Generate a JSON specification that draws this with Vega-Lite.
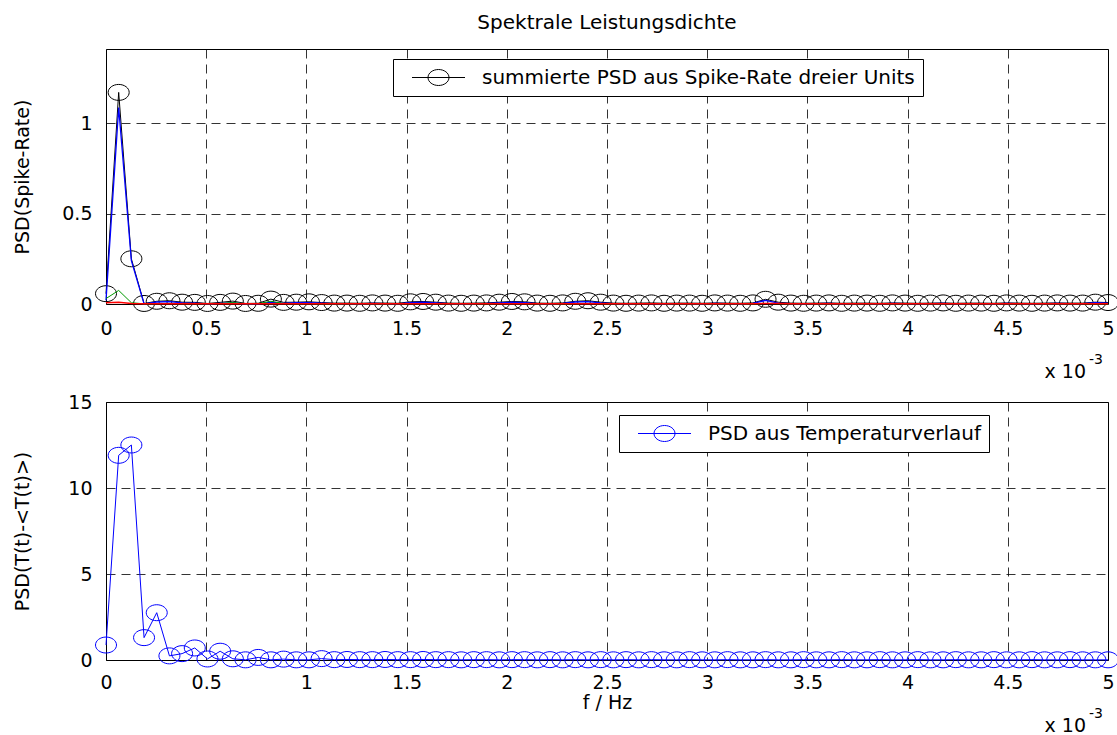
{
  "$schema": "https://vega.github.io/schema/vega-lite/v6.json",
  "padding": {"left": 12, "top": 12, "right": 4, "bottom": 2},
  "bounds": "flush",
  "spacing": 98,
  "config": {
    "font": "DejaVu Sans",
    "view": {"stroke": "black", "strokeWidth": 1},
    "axis": {"labelFont": "DejaVu Sans", "labelFontSize": 19, "labelColor": "black", "labelFlush": false, "titleFont": "DejaVu Sans", "titleFontSize": 19, "titleFontWeight": "normal", "titleColor": "black", "domain": false, "ticks": false, "grid": true, "gridColor": "black", "gridOpacity": 0.8, "gridDash": [9, 6], "gridWidth": 1},
    "legend": {"labelFont": "DejaVu Sans", "labelFontSize": 20, "labelColor": "black", "labelLimit": 1000, "padding": 8, "strokeColor": "black", "fillColor": "white", "cornerRadius": 0},
    "title": {"font": "DejaVu Sans", "fontSize": 20, "fontWeight": "normal", "color": "black"}
  },
  "datasets": {
    "psd": [
      {"f": 0, "s": 0.057, "b": 0.020, "g": 0.030, "r": 0.007, "t": 0.87},
      {"f": 0.0633, "s": 1.170, "b": 1.086, "g": 0.075, "r": 0.009, "t": 11.9},
      {"f": 0.1266, "s": 0.250, "b": 0.240, "g": 0.007, "r": 0.003, "t": 12.5},
      {"f": 0.1899, "s": 0.003, "b": 0.001, "g": 0.001, "r": 0.001, "t": 1.3},
      {"f": 0.2532, "s": 0.015, "b": 0.011, "g": 0.002, "r": 0.002, "t": 2.75},
      {"f": 0.3165, "s": 0.018, "b": 0.013, "g": 0.003, "r": 0.002, "t": 0.24},
      {"f": 0.3797, "s": 0.010, "b": 0.006, "g": 0.002, "r": 0.002, "t": 0.37},
      {"f": 0.4430, "s": 0.009, "b": 0.005, "g": 0.002, "r": 0.002, "t": 0.70},
      {"f": 0.5063, "s": 0.003, "b": 0.001, "g": 0.001, "r": 0.001, "t": 0.06},
      {"f": 0.5696, "s": 0.009, "b": 0.004, "g": 0.003, "r": 0.002, "t": 0.51},
      {"f": 0.6329, "s": 0.016, "b": 0.006, "g": 0.008, "r": 0.002, "t": 0.07},
      {"f": 0.6962, "s": 0.003, "b": 0.001, "g": 0.001, "r": 0.001, "t": 0.01},
      {"f": 0.7595, "s": 0.004, "b": 0.001, "g": 0.002, "r": 0.001, "t": 0.15},
      {"f": 0.8228, "s": 0.027, "b": 0.010, "g": 0.015, "r": 0.002, "t": 0.01},
      {"f": 0.8861, "s": 0.009, "b": 0.004, "g": 0.003, "r": 0.002, "t": 0.05},
      {"f": 0.9494, "s": 0.010, "b": 0.007, "g": 0.001, "r": 0.002, "t": 0.01},
      {"f": 1.0127, "s": 0.012, "b": 0.008, "g": 0.002, "r": 0.002, "t": 0.01},
      {"f": 1.0759, "s": 0.008, "b": 0.005, "g": 0.001, "r": 0.002, "t": 0.08},
      {"f": 1.1392, "s": 0.005, "b": 0.002, "g": 0.001, "r": 0.002, "t": 0.02},
      {"f": 1.2025, "s": 0.005, "b": 0.002, "g": 0.001, "r": 0.002, "t": 0.03},
      {"f": 1.2658, "s": 0.004, "b": 0.001, "g": 0.001, "r": 0.002, "t": 0.02},
      {"f": 1.3291, "s": 0.006, "b": 0.003, "g": 0.001, "r": 0.002, "t": 0.02},
      {"f": 1.3924, "s": 0.005, "b": 0.002, "g": 0.001, "r": 0.002, "t": 0.03},
      {"f": 1.4557, "s": 0.004, "b": 0.001, "g": 0.001, "r": 0.002, "t": 0.02},
      {"f": 1.5190, "s": 0.012, "b": 0.008, "g": 0.002, "r": 0.002, "t": 0.02},
      {"f": 1.5823, "s": 0.014, "b": 0.010, "g": 0.002, "r": 0.002, "t": 0.03},
      {"f": 1.6456, "s": 0.010, "b": 0.006, "g": 0.002, "r": 0.002, "t": 0.02},
      {"f": 1.7089, "s": 0.005, "b": 0.002, "g": 0.001, "r": 0.002, "t": 0.02},
      {"f": 1.7722, "s": 0.004, "b": 0.001, "g": 0.001, "r": 0.002, "t": 0.01},
      {"f": 1.8354, "s": 0.005, "b": 0.002, "g": 0.001, "r": 0.002, "t": 0.02},
      {"f": 1.8987, "s": 0.006, "b": 0.003, "g": 0.001, "r": 0.002, "t": 0.02},
      {"f": 1.9620, "s": 0.010, "b": 0.006, "g": 0.002, "r": 0.002, "t": 0.01},
      {"f": 2.0253, "s": 0.014, "b": 0.010, "g": 0.002, "r": 0.002, "t": 0.02},
      {"f": 2.0886, "s": 0.012, "b": 0.008, "g": 0.002, "r": 0.002, "t": 0.02},
      {"f": 2.1519, "s": 0.005, "b": 0.002, "g": 0.001, "r": 0.002, "t": 0.01},
      {"f": 2.2152, "s": 0.004, "b": 0.001, "g": 0.001, "r": 0.002, "t": 0.02},
      {"f": 2.2785, "s": 0.006, "b": 0.003, "g": 0.001, "r": 0.002, "t": 0.01},
      {"f": 2.3418, "s": 0.015, "b": 0.011, "g": 0.002, "r": 0.002, "t": 0.02},
      {"f": 2.4051, "s": 0.018, "b": 0.013, "g": 0.003, "r": 0.002, "t": 0.01},
      {"f": 2.4684, "s": 0.010, "b": 0.006, "g": 0.002, "r": 0.002, "t": 0.02},
      {"f": 2.5316, "s": 0.005, "b": 0.002, "g": 0.001, "r": 0.002, "t": 0.01},
      {"f": 2.5949, "s": 0.004, "b": 0.001, "g": 0.001, "r": 0.002, "t": 0.02},
      {"f": 2.6582, "s": 0.005, "b": 0.002, "g": 0.001, "r": 0.002, "t": 0.01},
      {"f": 2.7215, "s": 0.006, "b": 0.002, "g": 0.002, "r": 0.002, "t": 0.02},
      {"f": 2.7848, "s": 0.004, "b": 0.001, "g": 0.001, "r": 0.002, "t": 0.01},
      {"f": 2.8481, "s": 0.005, "b": 0.002, "g": 0.001, "r": 0.002, "t": 0.01},
      {"f": 2.9114, "s": 0.005, "b": 0.002, "g": 0.001, "r": 0.002, "t": 0.02},
      {"f": 2.9747, "s": 0.004, "b": 0.001, "g": 0.001, "r": 0.002, "t": 0.01},
      {"f": 3.0380, "s": 0.006, "b": 0.003, "g": 0.001, "r": 0.002, "t": 0.01},
      {"f": 3.1013, "s": 0.005, "b": 0.002, "g": 0.001, "r": 0.002, "t": 0.02},
      {"f": 3.1646, "s": 0.004, "b": 0.001, "g": 0.001, "r": 0.002, "t": 0.01},
      {"f": 3.2278, "s": 0.006, "b": 0.003, "g": 0.001, "r": 0.002, "t": 0.01},
      {"f": 3.2911, "s": 0.026, "b": 0.020, "g": 0.003, "r": 0.003, "t": 0.02},
      {"f": 3.3544, "s": 0.010, "b": 0.005, "g": 0.002, "r": 0.003, "t": 0.01},
      {"f": 3.4177, "s": 0.005, "b": 0.002, "g": 0.001, "r": 0.002, "t": 0.01},
      {"f": 3.4810, "s": 0.004, "b": 0.001, "g": 0.001, "r": 0.002, "t": 0.02},
      {"f": 3.5443, "s": 0.005, "b": 0.002, "g": 0.001, "r": 0.002, "t": 0.01},
      {"f": 3.6076, "s": 0.006, "b": 0.003, "g": 0.001, "r": 0.002, "t": 0.01},
      {"f": 3.6709, "s": 0.004, "b": 0.001, "g": 0.001, "r": 0.002, "t": 0.02},
      {"f": 3.7342, "s": 0.005, "b": 0.002, "g": 0.001, "r": 0.002, "t": 0.01},
      {"f": 3.7975, "s": 0.005, "b": 0.002, "g": 0.001, "r": 0.002, "t": 0.01},
      {"f": 3.8608, "s": 0.004, "b": 0.001, "g": 0.001, "r": 0.002, "t": 0.02},
      {"f": 3.9241, "s": 0.006, "b": 0.003, "g": 0.001, "r": 0.002, "t": 0.01},
      {"f": 3.9873, "s": 0.005, "b": 0.002, "g": 0.001, "r": 0.002, "t": 0.01},
      {"f": 4.0506, "s": 0.004, "b": 0.001, "g": 0.001, "r": 0.002, "t": 0.02},
      {"f": 4.1139, "s": 0.005, "b": 0.002, "g": 0.001, "r": 0.002, "t": 0.01},
      {"f": 4.1772, "s": 0.006, "b": 0.003, "g": 0.001, "r": 0.002, "t": 0.01},
      {"f": 4.2405, "s": 0.004, "b": 0.001, "g": 0.001, "r": 0.002, "t": 0.02},
      {"f": 4.3038, "s": 0.005, "b": 0.002, "g": 0.001, "r": 0.002, "t": 0.01},
      {"f": 4.3671, "s": 0.005, "b": 0.002, "g": 0.001, "r": 0.002, "t": 0.01},
      {"f": 4.4304, "s": 0.004, "b": 0.001, "g": 0.001, "r": 0.002, "t": 0.02},
      {"f": 4.4937, "s": 0.006, "b": 0.003, "g": 0.001, "r": 0.002, "t": 0.01},
      {"f": 4.5570, "s": 0.005, "b": 0.002, "g": 0.001, "r": 0.002, "t": 0.01},
      {"f": 4.6203, "s": 0.004, "b": 0.001, "g": 0.001, "r": 0.002, "t": 0.02},
      {"f": 4.6835, "s": 0.005, "b": 0.002, "g": 0.001, "r": 0.002, "t": 0.01},
      {"f": 4.7468, "s": 0.006, "b": 0.003, "g": 0.001, "r": 0.002, "t": 0.01},
      {"f": 4.8101, "s": 0.005, "b": 0.002, "g": 0.001, "r": 0.002, "t": 0.02},
      {"f": 4.8734, "s": 0.005, "b": 0.002, "g": 0.001, "r": 0.002, "t": 0.01},
      {"f": 4.9367, "s": 0.010, "b": 0.007, "g": 0.001, "r": 0.002, "t": 0.01},
      {"f": 5.0000, "s": 0.008, "b": 0.005, "g": 0.001, "r": 0.002, "t": 0.01}
    ]
  },
  "resolve": {"scale": {"stroke": "independent"}, "legend": {"stroke": "independent"}},
  "vconcat": [
    {
      "width": 1002,
      "height": 255,
      "title": {"text": "Spektrale Leistungsdichte", "frame": "group", "anchor": "middle", "offset": 16},
      "data": {"name": "psd"},
      "layer": [
        {
          "mark": {"type": "line", "color": "black", "strokeWidth": 1},
          "encoding": {
            "x": {"field": "f", "type": "quantitative", "scale": {"domain": [0, 5], "nice": false, "zero": false},
                  "axis": {"values": [0, 0.5, 1, 1.5, 2, 2.5, 3, 3.5, 4, 4.5, 5], "format": "~g", "labelPadding": 15, "title": null}},
            "y": {"field": "s", "type": "quantitative", "scale": {"domain": [0, 1.41], "nice": false},
                  "axis": {"values": [0, 0.5, 1], "format": "~g", "labelPadding": 14, "title": "PSD(Spike-Rate)", "titleX": -74}}
          }
        },
        {
          "mark": {"type": "point", "shape": "M-1,0A1,0.76 0 1,0 1,0A1,0.76 0 1,0 -1,0", "size": 441, "filled": false, "strokeWidth": 1, "opacity": 1},
          "encoding": {
            "x": {"field": "f", "type": "quantitative"},
            "y": {"field": "s", "type": "quantitative"},
            "stroke": {"datum": "summierte PSD aus Spike-Rate dreier Units", "type": "nominal", "scale": {"range": ["black"]},
                       "legend": {"orient": "none", "legendX": 287, "legendY": 10, "title": null, "symbolType": "M-2.65,0L2.65,0M-1.05,0A1.05,0.8 0 1,0 1.05,0A1.05,0.8 0 1,0 -1.05,0", "symbolSize": 400, "symbolStrokeWidth": 1, "symbolFillColor": "transparent", "symbolOffset": 27, "labelOffset": 33}}
          }
        },
        {
          "mark": {"type": "line", "color": "#0000ff", "strokeWidth": 1.3},
          "encoding": {"x": {"field": "f", "type": "quantitative"}, "y": {"field": "b", "type": "quantitative"}}
        },
        {
          "mark": {"type": "line", "color": "#009900", "strokeWidth": 1},
          "encoding": {"x": {"field": "f", "type": "quantitative"}, "y": {"field": "g", "type": "quantitative"}}
        },
        {
          "mark": {"type": "line", "color": "#ff0000", "strokeWidth": 1.5},
          "encoding": {"x": {"field": "f", "type": "quantitative"}, "y": {"field": "r", "type": "quantitative"}}
        },
        {
          "data": {"values": [{}]},
          "mark": {"type": "text", "text": "x 10", "align": "right", "baseline": "alphabetic", "dx": -22, "dy": 74, "fontSize": 19, "font": "DejaVu Sans", "color": "black"},
          "encoding": {"x": {"datum": 5, "type": "quantitative"}, "y": {"datum": 0, "type": "quantitative"}}
        },
        {
          "data": {"values": [{}]},
          "mark": {"type": "text", "text": "-3", "align": "left", "baseline": "alphabetic", "dx": -19, "dy": 60, "fontSize": 14, "font": "DejaVu Sans", "color": "black"},
          "encoding": {"x": {"datum": 5, "type": "quantitative"}, "y": {"datum": 0, "type": "quantitative"}}
        }
      ]
    },
    {
      "width": 1002,
      "height": 258,
      "data": {"name": "psd"},
      "layer": [
        {
          "mark": {"type": "line", "color": "#0000ff", "strokeWidth": 1},
          "encoding": {
            "x": {"field": "f", "type": "quantitative", "scale": {"domain": [0, 5], "nice": false, "zero": false},
                  "axis": {"values": [0, 0.5, 1, 1.5, 2, 2.5, 3, 3.5, 4, 4.5, 5], "format": "~g", "labelPadding": 13, "title": "f / Hz", "titlePadding": 1}},
            "y": {"field": "t", "type": "quantitative", "scale": {"domain": [0, 15], "nice": false},
                  "axis": {"values": [0, 5, 10, 15], "format": "d", "labelPadding": 14, "title": "PSD(T(t)-<T(t)>)", "titleX": -74}}
          }
        },
        {
          "mark": {"type": "point", "shape": "M-1,0A1,0.76 0 1,0 1,0A1,0.76 0 1,0 -1,0", "size": 441, "filled": false, "strokeWidth": 1, "opacity": 1},
          "encoding": {
            "x": {"field": "f", "type": "quantitative"},
            "y": {"field": "t", "type": "quantitative"},
            "stroke": {"datum": "PSD aus Temperaturverlauf", "type": "nominal", "scale": {"range": ["#0000ff"]},
                       "legend": {"orient": "none", "legendX": 513, "legendY": 13, "title": null, "symbolType": "M-2.65,0L2.65,0M-1.05,0A1.05,0.8 0 1,0 1.05,0A1.05,0.8 0 1,0 -1.05,0", "symbolSize": 400, "symbolStrokeWidth": 1, "symbolFillColor": "transparent", "symbolOffset": 27, "labelOffset": 33}}
          }
        },
        {
          "data": {"values": [{}]},
          "mark": {"type": "text", "text": "x 10", "align": "right", "baseline": "alphabetic", "dx": -22, "dy": 72, "fontSize": 19, "font": "DejaVu Sans", "color": "black"},
          "encoding": {"x": {"datum": 5, "type": "quantitative"}, "y": {"datum": 0, "type": "quantitative"}}
        },
        {
          "data": {"values": [{}]},
          "mark": {"type": "text", "text": "-3", "align": "left", "baseline": "alphabetic", "dx": -19, "dy": 58, "fontSize": 14, "font": "DejaVu Sans", "color": "black"},
          "encoding": {"x": {"datum": 5, "type": "quantitative"}, "y": {"datum": 0, "type": "quantitative"}}
        }
      ]
    }
  ]
}
